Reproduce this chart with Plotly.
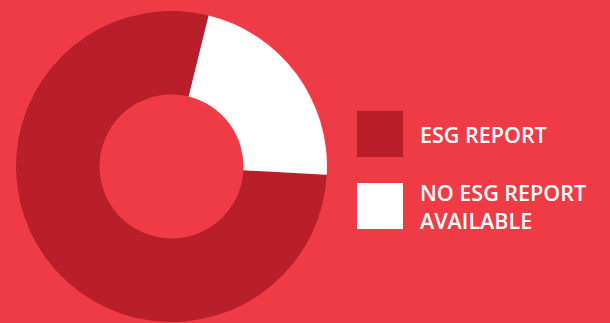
import plotly.graph_objects as go

labels = ["ESG REPORT", "NO ESG REPORT<br>AVAILABLE"]
values = [78, 22]
colors = ["#B81F2A", "#FFFFFF"]
bg = "#EF3B45"

W, H = 610, 323

fig = go.Figure(go.Pie(
    labels=labels, values=values, hole=0.463, sort=False, direction="clockwise",
    rotation=93, marker=dict(colors=colors, line=dict(width=0)),
    textinfo="none", hoverinfo="label+percent", showlegend=False,
    domain=dict(x=[16 / W, 327 / W], y=[1 / H, 312 / H]),
))

def px(x):
    return x / W

def py(y):
    return 1 - y / H

shapes = []
annotations = []
legend_rows = [(111, 157), (183, 229)]
for (y0, y1), lab, col in zip(legend_rows, labels, colors):
    shapes.append(dict(type="rect", xref="paper", yref="paper",
                       x0=px(357), x1=px(403), y0=py(y1), y1=py(y0),
                       fillcolor=col, line=dict(width=0)))
    annotations.append(dict(text=lab, xref="paper", yref="paper",
                            x=px(418), y=py((y0 + y1) / 2 + 0.5), xanchor="left", yanchor="middle",
                            showarrow=False, align="left",
                            font=dict(family="Open Sans", size=21.5, color="white", weight=600)))

fig.update_layout(
    width=W, height=H, margin=dict(l=0, r=0, t=0, b=0),
    paper_bgcolor=bg, plot_bgcolor=bg,
    shapes=shapes, annotations=annotations,
)
fig.write_html("out.html")
